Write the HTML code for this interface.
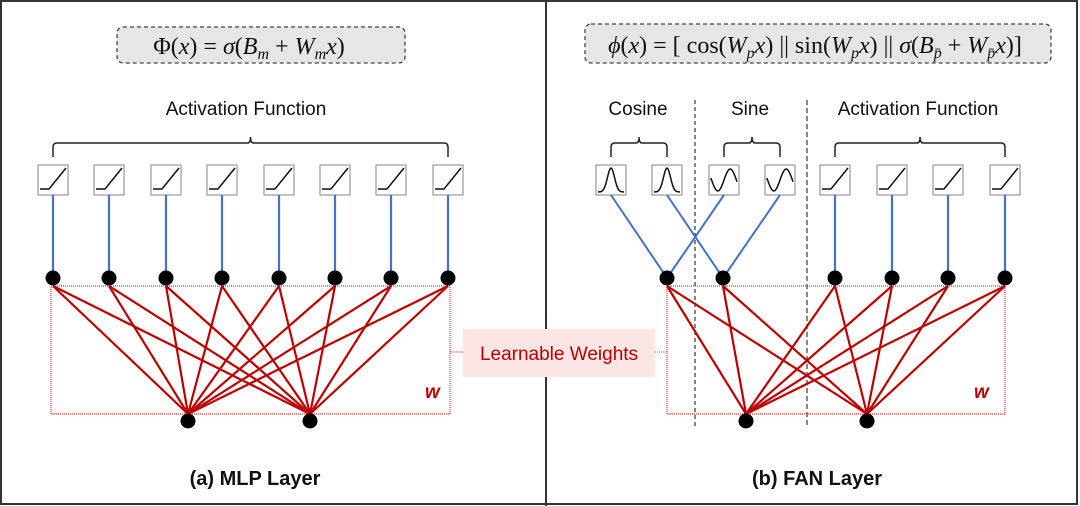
<!DOCTYPE html>
<html><head><meta charset="utf-8"><style>
html,body{margin:0;padding:0;background:#fff;}
svg{display:block;}
text{font-family:"Liberation Sans",sans-serif;}
.m{font-family:"Liberation Serif",serif;font-size:24px;fill:#111;}
</style></head><body>
<svg id="s" width="1080" height="506" viewBox="0 0 1080 506" xmlns="http://www.w3.org/2000/svg">
<rect x="1" y="1" width="1076" height="503" fill="#fff" stroke="#333" stroke-width="2"/>
<line x1="546" y1="0" x2="546" y2="506" stroke="#333" stroke-width="2"/>
<rect x="117" y="27" width="288" height="36" rx="6" fill="#e6e6e6" stroke="#444" stroke-dasharray="4,3" stroke-width="1.3"/>
<text x="249" y="54" text-anchor="middle" class="m">Φ(<tspan font-style="italic">x</tspan>) =  <tspan font-style="italic">σ</tspan>(<tspan font-style="italic">B<tspan font-size="16" dy="5">m</tspan></tspan><tspan dy="-5"> + </tspan><tspan font-style="italic">W<tspan font-size="16" dy="5">m</tspan><tspan dy="-5">x</tspan></tspan>)</text>
<rect x="585" y="24" width="466" height="39" rx="6" fill="#e6e6e6" stroke="#444" stroke-dasharray="4,3" stroke-width="1.3"/>
<text x="815" y="53" text-anchor="middle" class="m"><tspan font-style="italic">ϕ</tspan>(<tspan font-style="italic">x</tspan>) =  [ cos(<tspan font-style="italic">W<tspan font-size="16" dy="5">p</tspan><tspan dy="-5">x</tspan></tspan>) || sin(<tspan font-style="italic">W<tspan font-size="16" dy="5">p</tspan><tspan dy="-5">x</tspan></tspan>) || <tspan font-style="italic">σ</tspan>(<tspan font-style="italic">B<tspan font-size="16" dy="5">p̄</tspan></tspan><tspan dy="-5"> + </tspan><tspan font-style="italic">W<tspan font-size="16" dy="5">p̄</tspan><tspan dy="-5">x</tspan></tspan>)]</text>
<text x="246" y="115" text-anchor="middle" font-size="19" fill="#111">Activation Function</text>
<text x="638" y="115" text-anchor="middle" font-size="19" fill="#111">Cosine</text>
<text x="750" y="115" text-anchor="middle" font-size="19" fill="#111">Sine</text>
<text x="918" y="115" text-anchor="middle" font-size="19" fill="#111">Activation Function</text>
<line x1="695" y1="100" x2="695" y2="428" stroke="#333" stroke-dasharray="4,3" stroke-width="1.2"/>
<line x1="807" y1="100" x2="807" y2="428" stroke="#555" stroke-dasharray="5,3" stroke-width="1.4"/>
<rect x="51" y="286" width="399" height="128" fill="none" stroke="#e33" stroke-dasharray="1,1" stroke-width="1.2"/>
<rect x="667" y="286" width="338" height="128" fill="none" stroke="#e33" stroke-dasharray="1,1" stroke-width="1.2"/>
<line x1="450" y1="352" x2="463" y2="352" stroke="#e33" stroke-dasharray="1,1"/>
<line x1="655" y1="352" x2="667" y2="352" stroke="#e33" stroke-dasharray="1,1"/>
<rect x="463" y="329" width="192" height="48" fill="#fbe5e5"/>
<text x="559" y="360" text-anchor="middle" font-size="19" fill="#c00000">Learnable Weights</text>
<text x="425" y="398" font-family="Liberation Serif" font-style="italic" font-weight="bold" font-size="19" fill="#c00000">w</text>
<text x="974" y="398" font-family="Liberation Serif" font-style="italic" font-weight="bold" font-size="19" fill="#c00000">w</text>
<text x="255" y="485" text-anchor="middle" font-size="20" font-weight="bold" fill="#111">(a) MLP Layer</text>
<text x="817" y="485" text-anchor="middle" font-size="20" font-weight="bold" fill="#111">(b) FAN Layer</text>
<g id="g"></g>
</svg>
<script>
var g=document.getElementById('g'),h='';
function L(a,b,c,d,col,w){h+='<line x1="'+a+'" y1="'+b+'" x2="'+c+'" y2="'+d+'" stroke="'+col+'" stroke-width="'+w+'"/>';}
function C(x,y,r){h+='<circle cx="'+x+'" cy="'+y+'" r="'+r+'" fill="#000"/>';}
function box(x,t){h+='<rect x="'+(x-15)+'" y="165" width="30" height="30" fill="#fff" stroke="#999" stroke-width="1.2"/>';
 var p;
 if(t=='r')p='M'+(x-13)+',189 L'+(x-4)+',189 L'+(x+13)+',168';
 else if(t=='c'){p='M'+(x-13)+',192';for(var i=0;i<=26;i++){var xx=x-13+i,yy=192-24*Math.exp(-Math.pow((i-13)/5,2));p+=' L'+xx+','+yy.toFixed(1);}}
 else {p='M'+(x-13)+',180';for(var i=0;i<=26;i++){var yy=180-11*Math.sin((i-13)/13*Math.PI*1.05);p+=' L'+(x-13+i)+','+yy.toFixed(1);}}
 h+='<path d="'+p+'" fill="none" stroke="#111" stroke-width="1.5"/>';}
function brace(a,b,y){var m=(a+b)/2;h+='<path d="M'+a+','+(y+14)+' L'+a+','+(y+4)+' Q'+a+','+y+' '+(a+4)+','+y+' L'+(m-3)+','+y+' Q'+m+','+y+' '+m+','+(y-6)+' Q'+m+','+y+' '+(m+3)+','+y+' L'+(b-4)+','+y+' Q'+b+','+y+' '+b+','+(y+4)+' L'+b+','+(y+14)+'" fill="none" stroke="#222" stroke-width="1.5"/>';}
var lx=[];for(var i=0;i<8;i++)lx.push(Math.round(53+56.4*i));
brace(53,448,143);
var lb=[188,310];
lx.forEach(function(x){box(x,'r');L(x,195,x,278,'#4472c4',2.2);lb.forEach(function(b){L(x,286,b,414,'#c00000',2.2);});});
lx.forEach(function(x){C(x,278,7.5)});lb.forEach(function(b){C(b,421,7.5)});
var bx=[611,667,724,780,835,892,948,1005],ty=['c','c','s','s','r','r','r','r'];
brace(611,667,143);brace(724,780,143);brace(835,1005,143);
bx.forEach(function(x,i){box(x,ty[i]);});
L(611,195,667,278,'#4472c4',2);L(667,195,723,278,'#4472c4',2);L(724,195,667,278,'#4472c4',2);L(780,195,723,278,'#4472c4',2);
[835,892,948,1005].forEach(function(x){L(x,195,x,278,'#4472c4',2.2);});
var rn=[667,723,835,892,948,1005],rb=[746,867];
rn.forEach(function(x){rb.forEach(function(b){L(x,286,b,414,'#c00000',2.2);});});
rn.forEach(function(x){C(x,278,7.5)});rb.forEach(function(b){C(b,421,7.5)});
g.innerHTML=h;
</script>
</body></html>
